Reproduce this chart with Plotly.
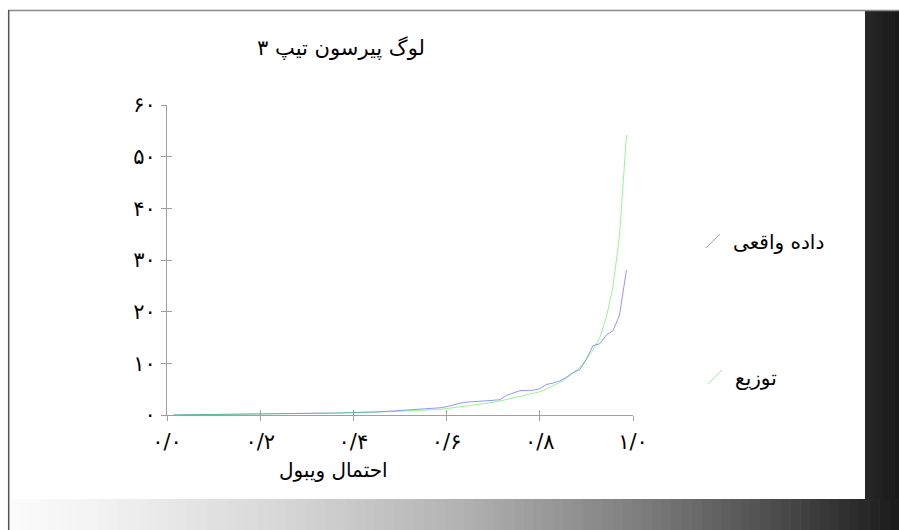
import plotly.graph_objects as go

# ---------------- data ----------------
weibull_p = [0.014, 0.029, 0.043, 0.057, 0.071, 0.086, 0.100, 0.114, 0.129, 0.143,
             0.157, 0.171, 0.186, 0.200, 0.214, 0.229, 0.243, 0.257, 0.271, 0.286,
             0.300, 0.314, 0.329, 0.343, 0.357, 0.371, 0.386, 0.400, 0.414, 0.429,
             0.443, 0.457, 0.471, 0.486, 0.500, 0.514, 0.529, 0.543, 0.557, 0.571,
             0.586, 0.600, 0.614, 0.629, 0.643, 0.657, 0.671, 0.686, 0.700, 0.714,
             0.729, 0.743, 0.757, 0.771, 0.786, 0.800, 0.814, 0.829, 0.843, 0.857,
             0.871, 0.886, 0.900, 0.914, 0.929, 0.943, 0.957, 0.971, 0.986]

observed = [0.02, 0.03, 0.04, 0.05, 0.06, 0.07, 0.08, 0.09, 0.10, 0.11,
            0.12, 0.13, 0.14, 0.16, 0.18, 0.20, 0.22, 0.24, 0.26, 0.28,
            0.30, 0.32, 0.34, 0.36, 0.38, 0.40, 0.42, 0.45, 0.48, 0.50,
            0.55, 0.62, 0.70, 0.78, 0.85, 0.92, 1.00, 1.08, 1.15, 1.25,
            1.40, 1.60, 2.00, 2.30, 2.50, 2.55, 2.65, 2.75, 2.85, 2.95,
            3.80, 4.20, 4.70, 4.75, 4.80, 5.10, 5.90, 6.20, 6.60, 7.30,
            8.20, 8.80, 10.8, 13.4, 13.8, 15.5, 16.3, 19.3, 28.1]

fitted = [0.01, 0.02, 0.03, 0.04, 0.05, 0.06, 0.07, 0.08, 0.09, 0.10,
          0.11, 0.12, 0.13, 0.15, 0.16, 0.18, 0.20, 0.22, 0.24, 0.26,
          0.28, 0.30, 0.32, 0.35, 0.37, 0.40, 0.42, 0.45, 0.48, 0.51,
          0.55, 0.59, 0.63, 0.67, 0.72, 0.77, 0.82, 0.88, 0.95, 1.02,
          1.10, 1.25, 1.40, 1.55, 1.70, 1.85, 2.05, 2.25, 2.45, 2.70,
          3.00, 3.25, 3.50, 3.80, 4.20, 4.50, 5.00, 5.60, 6.30, 7.10,
          8.10, 9.20, 10.8, 12.6, 15.0, 19.0, 24.8, 34.6, 54.2]

series_names = ['داده واقعی', 'توزیع']
x_tick_vals = [0.0, 0.2, 0.4, 0.6, 0.8, 1.0]
x_tick_text = ['۰/۰', '۰/۲', '۰/۴', '۰/۶', '۰/۸', '۱/۰']
y_tick_vals = [0, 10, 20, 30, 40, 50, 60]
y_tick_text = ['۰', '۱۰', '۲۰', '۳۰', '۴۰', '۵۰', '۶۰']
title_text = 'لوگ پیرسون تیپ ۳'
x_title_text = 'احتمال ویبول'

# ---------------- geometry / style ----------------
W, H = 899, 530                    # figure size = window size
L, R, T, B = 167, 633, 105, 415    # plot area in page pixels
FONT = 'DejaVu Sans'
BLUE = 'rgba(0,0,255,0.42)'
GREEN = 'rgba(0,235,0,0.42)'
BLUE_KEY = '#9a9aff'
GREEN_KEY = '#9aef9a'
AXIS = '#a0a0a0'


def px2x(px):
    return (px - L) / (R - L)


def py2y(py):
    return (B - py) / (B - T)


fig = go.Figure()

fig.add_trace(go.Scatter(x=weibull_p, y=observed, mode='lines',
                         line=dict(color=BLUE, width=1), showlegend=False,
                         name=series_names[0]))
fig.add_trace(go.Scatter(x=weibull_p, y=fitted, mode='lines',
                         line=dict(color=GREEN, width=1), showlegend=False,
                         name=series_names[1]))

# legend entries (diagonal line symbols)
fig.add_trace(go.Scatter(x=[None], y=[None], mode='markers', name=series_names[0],
                         marker=dict(symbol='line-ne', size=14, color=BLUE_KEY,
                                     line=dict(color=BLUE_KEY, width=1)),
                         legend='legend'))
fig.add_trace(go.Scatter(x=[None], y=[None], mode='markers', name=series_names[1],
                         marker=dict(symbol='line-ne', size=14, color=GREEN_KEY,
                                     line=dict(color=GREEN_KEY, width=1)),
                         legend='legend2'))

# overlay axes for inner tick halves
fig.add_trace(go.Scatter(x=[None], y=[None], xaxis='x2', yaxis='y2',
                         showlegend=False, hoverinfo='skip'))

shapes = []


def lerp_stops(stops, t):
    for (t0, v0), (t1, v1) in zip(stops[:-1], stops[1:]):
        if t <= t1:
            f = 0 if t1 == t0 else (t - t0) / (t1 - t0)
            return v0 + f * (v1 - v0)
    return stops[-1][1]


# bottom gradient band
bottom_stops = [(0, 252), (0.1, 242), (0.3, 216), (0.5, 180), (0.7, 128), (0.85, 80), (1.0, 26)]
N = 90
x0p, x1p = 9, 899
for i in range(N):
    a = x0p + (x1p - x0p) * i / N
    b = x0p + (x1p - x0p) * (i + 1) / N + 0.6
    v = int(round(lerp_stops(bottom_stops, (i + 0.5) / N)))
    shapes.append(dict(type='rect', xref='paper', yref='paper',
                       x0=px2x(a), x1=px2x(b), y0=py2y(531), y1=py2y(499),
                       fillcolor=f'rgb({v},{v},{v})', line=dict(width=0)))

# right dark strip
right_stops = [(0, 40), (1, 22)]
M = 12
for i in range(M):
    a = 865 + 35 * i / M
    b = 865 + 35 * (i + 1) / M + 0.6
    v = int(round(lerp_stops(right_stops, (i + 0.5) / M)))
    shapes.append(dict(type='rect', xref='paper', yref='paper',
                       x0=px2x(a), x1=px2x(b), y0=py2y(499), y1=py2y(11),
                       fillcolor=f'rgb({v},{v},{v})', line=dict(width=0)))

# frame lines
shapes.append(dict(type='line', xref='paper', yref='paper',
                   x0=px2x(8), x1=px2x(900), y0=py2y(10.5), y1=py2y(10.5),
                   line=dict(color='#8a8a8a', width=1.5)))
shapes.append(dict(type='line', xref='paper', yref='paper',
                   x0=px2x(8.7), x1=px2x(8.7), y0=py2y(10), y1=py2y(531),
                   line=dict(color='#555555', width=1.5)))

axis_common = dict(showgrid=False, zeroline=False)

fig.update_layout(
    width=W, height=H,
    margin=dict(l=L, r=W - R, t=T, b=H - B, pad=0),
    paper_bgcolor='white', plot_bgcolor='white',
    hovermode=False,
    font=dict(family=FONT, size=20, color='black'),
    title=dict(text=title_text, xref='container', yref='container',
               x=341 / W, xanchor='center', y=1 - 48 / H, yanchor='middle',
               font=dict(family=FONT, size=21, color='black')),
    xaxis=dict(range=[0, 1], tickvals=x_tick_vals, ticktext=x_tick_text,
               showline=True, linecolor=AXIS, linewidth=1,
               ticks='outside', ticklen=5, tickcolor=AXIS, tickwidth=1,
               tickfont=dict(size=21), ticklabelstandoff=3, **axis_common),
    yaxis=dict(range=[0, 60], tickvals=y_tick_vals, ticktext=y_tick_text,
               showline=True, linecolor=AXIS, linewidth=1,
               ticks='outside', ticklen=5, tickcolor=AXIS, tickwidth=1,
               tickfont=dict(size=21), ticklabelstandoff=1, **axis_common),
    xaxis2=dict(range=[0, 1], overlaying='x', anchor='y', side='bottom',
                tickvals=x_tick_vals, ticks='inside', ticklen=5, tickcolor=AXIS,
                showticklabels=False, showline=False, **axis_common),
    yaxis2=dict(range=[0, 60], overlaying='y', anchor='x', side='left',
                tickvals=y_tick_vals, ticks='inside', ticklen=5, tickcolor=AXIS,
                showticklabels=False, showline=False, **axis_common),
    legend=dict(x=px2x(693), xanchor='left', y=py2y(241), yanchor='middle',
                bgcolor='rgba(0,0,0,0)', font=dict(size=20, family=FONT)),
    legend2=dict(x=px2x(695), xanchor='left', y=py2y(377), yanchor='middle',
                 bgcolor='rgba(0,0,0,0)', font=dict(size=20, family=FONT)),
    annotations=[dict(text=x_title_text, xref='paper', yref='paper',
                      x=px2x(333), y=py2y(470), xanchor='center', yanchor='middle',
                      showarrow=False, font=dict(size=20, family=FONT))],
    shapes=shapes,
    showlegend=True,
)

fig.write_html('out.html',
               config={'displayModeBar': False, 'staticPlot': True},
               post_script="document.body.style.margin='0px';"
                           "document.documentElement.style.overflow='hidden';")
